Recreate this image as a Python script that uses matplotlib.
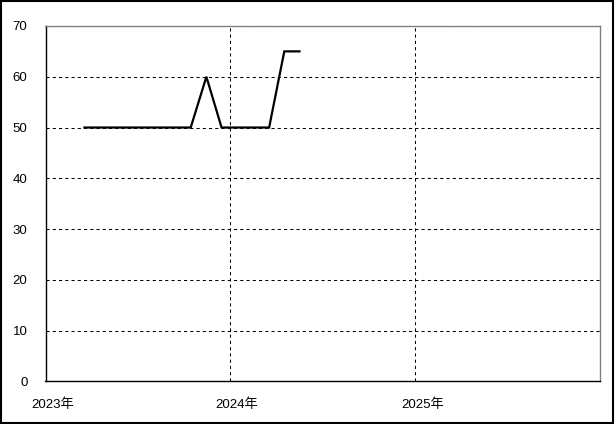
import datetime as dt
import matplotlib
matplotlib.use("Agg")
import matplotlib.pyplot as plt
import matplotlib.dates as mdates
import matplotlib.transforms as mtrans

plt.rcParams['font.family'] = ['Liberation Sans', 'Noto Sans CJK JP']

# データ
dates = [dt.date(2023, 3, 19), dt.date(2023, 10, 15), dt.date(2023, 11, 15),
         dt.date(2023, 12, 15), dt.date(2024, 3, 18), dt.date(2024, 4, 17),
         dt.date(2024, 5, 17)]
values = [50, 50, 60, 50, 50, 65, 65]
year_ticks = [dt.date(2023, 1, 1), dt.date(2024, 1, 1), dt.date(2025, 1, 1)]
year_labels = ['2023年', '2024年', '2025年']
y_ticks = [0, 10, 20, 30, 40, 50, 60, 70]

fig = plt.figure(figsize=(6.15, 4.24), dpi=100)
ax = fig.add_axes([45.5 / 615, 1 - 381.3 / 424, (600 - 45.5) / 615, (381.3 - 26) / 424])

ax.plot(dates, values, color='black', linewidth=1.6, solid_joinstyle='miter')

ax.set_xlim(dt.date(2023, 1, 1), dt.date(2026, 1, 1))
ax.set_ylim(0, 70)
ax.set_yticks(y_ticks)
ax.set_xticks(mdates.date2num(year_ticks))
ax.set_xticklabels(year_labels)
ax.tick_params(axis='both', length=0, labelsize=9.5)
ax.tick_params(axis='y', pad=13)
ax.tick_params(axis='x', pad=12)

ax.grid(True, color='black', linestyle=(0, (3, 3)), linewidth=0.75)
ax.set_axisbelow(True)

ax.spines['top'].set_color('#808080')
ax.spines['right'].set_color('#808080')
for s in ['left', 'bottom']:
    ax.spines[s].set_color('black')
for s in ax.spines.values():
    s.set_linewidth(1.0)

# 2023年の縦線は左軸と重なるので消す
ax.xaxis.get_gridlines()[0].set_visible(False)

# 年ラベルを少し右へずらす
offset = mtrans.ScaledTranslation(7 / 100, 0, fig.dpi_scale_trans)
for lbl in ax.get_xticklabels():
    lbl.set_transform(lbl.get_transform() + offset)

# 外枠
fig.patches.append(plt.Rectangle((0.002, 0.002), 0.995, 0.995, transform=fig.transFigure,
                                 fill=False, edgecolor='black', linewidth=1.5))

fig.savefig('out.png', dpi=100)
